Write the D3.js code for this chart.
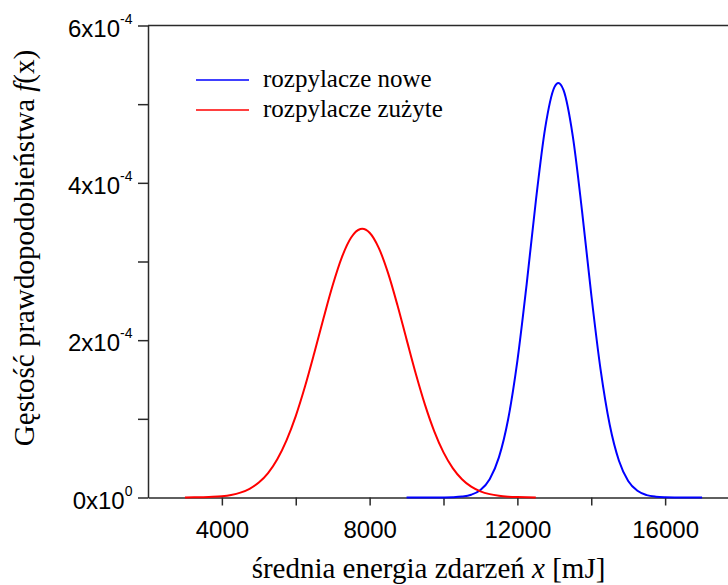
<!DOCTYPE html>
<html>
<head>
<meta charset="utf-8">
<script src="https://cdn.jsdelivr.net/npm/d3@7"></script>
<style>
  html, body { margin: 0; padding: 0; background: #ffffff; overflow: hidden; }
  svg { display: block; }
</style>
</head>
<body>
<svg id="chart" width="728" height="585"></svg>
<script>
// Energy grid [mJ] and probability density (in units of 1e-6) for new sprinklers
const energyNew = [9000, 9250, 9500, 9750, 10000, 10250, 10500, 10750, 11000, 11250,
  11500, 11750, 12000, 12250, 12500, 12750, 13000, 13110, 13250, 13500, 13750, 14000,
  14250, 14500, 14750, 15000, 15250, 15500, 15750, 16000, 16250, 16500, 16750, 17000];
const densityNew = [0, 0, 0, 0.02, 0.09, 0.33, 1.14, 3.49, 9.54, 23.3,
  51.0, 99.5, 173.7, 270.7, 376.9, 468.9, 521.3, 527.0, 517.8, 459.5, 364.4, 258.2,
  163.4, 92.4, 46.7, 21.1, 8.52, 3.07, 0.99, 0.28, 0.07, 0.02, 0, 0];

// Energy grid [mJ] and probability density (in units of 1e-6) for worn sprinklers
const energyWorn = [3000, 3250, 3500, 3750, 4000, 4250, 4500, 4750, 5000, 5250,
  5500, 5750, 6000, 6250, 6500, 6750, 7000, 7250, 7500, 7750, 7800, 8000, 8250,
  8500, 8750, 9000, 9250, 9500, 9750, 10000, 10250, 10500, 10750, 11000, 11250,
  11500, 11750, 12000, 12250, 12500];
const densityWorn = [0.07, 0.17, 0.38, 0.81, 1.67, 3.29, 6.18, 11.1, 19.0, 31.1,
  48.7, 72.7, 103.5, 141.0, 183.3, 227.6, 269.8, 305.6, 330.5, 341.3, 341.6, 336.6, 317.0,
  285.2, 245.0, 201.0, 157.4, 117.8, 84.2, 57.4, 37.4, 23.3, 13.8, 7.85, 4.26,
  2.20, 1.09, 0.51, 0.23, 0.10];

const seriesNames = ["rozpylacze nowe", "rozpylacze zużyte"];
const seriesColors = ["#0000ff", "#ff0000"];

const xTickValues = [4000, 6000, 8000, 10000, 12000, 14000, 16000];
const xTickLabels = ["4000", "", "8000", "", "12000", "", "16000"];
const yTickValues = [0, 100, 200, 300, 400, 500, 600];
const yTickMantissa = ["0x10", "", "2x10", "", "4x10", "", "6x10"];
const yTickExponent = ["0", "", "-4", "", "-4", "", "-4"];

const SANS = "'Liberation Sans', Arial, sans-serif";
const SERIF = "'Liberation Serif', 'Times New Roman', serif";
const AXIS_COLOR = "#2a2a2a";

const svg = d3.select("#chart");

const x = d3.scaleLinear().domain([2000, 18000]).range([148, 739]);
const y = d3.scaleLinear().domain([0, 600]).range([497.5, 25.5]);

// Left axis with outward ticks
const yAxis = svg.append("g")
  .attr("transform", "translate(148,0)")
  .call(d3.axisLeft(y).tickValues(yTickValues).tickSize(10).tickSizeOuter(0).tickFormat(""));
yAxis.selectAll("path, line").attr("stroke", AXIS_COLOR).attr("stroke-width", 1.5);

// Top frame line
svg.append("line")
  .attr("x1", x(2000)).attr("x2", x(18000))
  .attr("y1", y(600)).attr("y2", y(600))
  .attr("stroke", AXIS_COLOR).attr("stroke-width", 1.5);

// Bottom axis with downward ticks
const xAxis = svg.append("g")
  .attr("transform", `translate(0,${y(0)})`)
  .call(d3.axisBottom(x).tickValues(xTickValues).tickSize(8).tickSizeOuter(0)
    .tickFormat((d, i) => xTickLabels[i]));
xAxis.selectAll("path, line").attr("stroke", AXIS_COLOR).attr("stroke-width", 1.5);
xAxis.selectAll("text")
  .attr("y", 40.5).attr("dy", 0)
  .attr("fill", "#000")
  .style("font-family", SANS).style("font-size", "24px");

// Y tick labels in the form m x 10^e
yTickValues.forEach((v, i) => {
  if (!yTickMantissa[i]) return;
  const t = svg.append("text")
    .attr("x", 132.5).attr("y", y(v) + 11)
    .attr("text-anchor", "end")
    .attr("fill", "#000")
    .style("font-family", SANS).style("font-size", "24px");
  t.append("tspan").text(yTickMantissa[i]);
  t.append("tspan").attr("dy", -13).style("font-size", "14px").text(yTickExponent[i]);
});

// Density curves
const line = d3.line()
  .x(d => x(d[0]))
  .y(d => y(d[1]))
  .curve(d3.curveMonotoneX);

const series = [
  d3.zip(energyNew, densityNew),
  d3.zip(energyWorn, densityWorn)
];

svg.append("g").selectAll("path")
  .data(series)
  .join("path")
  .attr("d", line)
  .attr("fill", "none")
  .attr("stroke", (d, i) => seriesColors[i])
  .attr("stroke-width", 2)
  .attr("stroke-linejoin", "round");

// Legend
const legend = svg.append("g");
seriesNames.forEach((name, i) => {
  const ly = 80 + i * 30;
  legend.append("line")
    .attr("x1", 196).attr("x2", 249)
    .attr("y1", ly).attr("y2", ly)
    .attr("stroke", seriesColors[i]).attr("stroke-width", 1.5);
  legend.append("text")
    .attr("x", 263).attr("y", ly + 6.7)
    .attr("fill", "#000")
    .style("font-family", SERIF).style("font-size", "25px")
    .text(name);
});

// Axis titles
const xTitle = svg.append("text")
  .attr("x", 428.5).attr("y", 578)
  .attr("text-anchor", "middle")
  .attr("fill", "#000")
  .style("font-family", SERIF).style("font-size", "29px");
xTitle.append("tspan").text("średnia energia zdarzeń ");
xTitle.append("tspan").style("font-style", "italic").text("x");
xTitle.append("tspan").text(" [mJ]");

const yTitle = svg.append("text")
  .attr("transform", "translate(33.5,248) rotate(-90)")
  .attr("text-anchor", "middle")
  .attr("fill", "#000")
  .style("font-family", SERIF).style("font-size", "29px");
yTitle.append("tspan").text("Gęstość prawdopodobieństwa ");
yTitle.append("tspan").style("font-style", "italic").text("f");
yTitle.append("tspan").text("(x)");
</script>
</body>
</html>
